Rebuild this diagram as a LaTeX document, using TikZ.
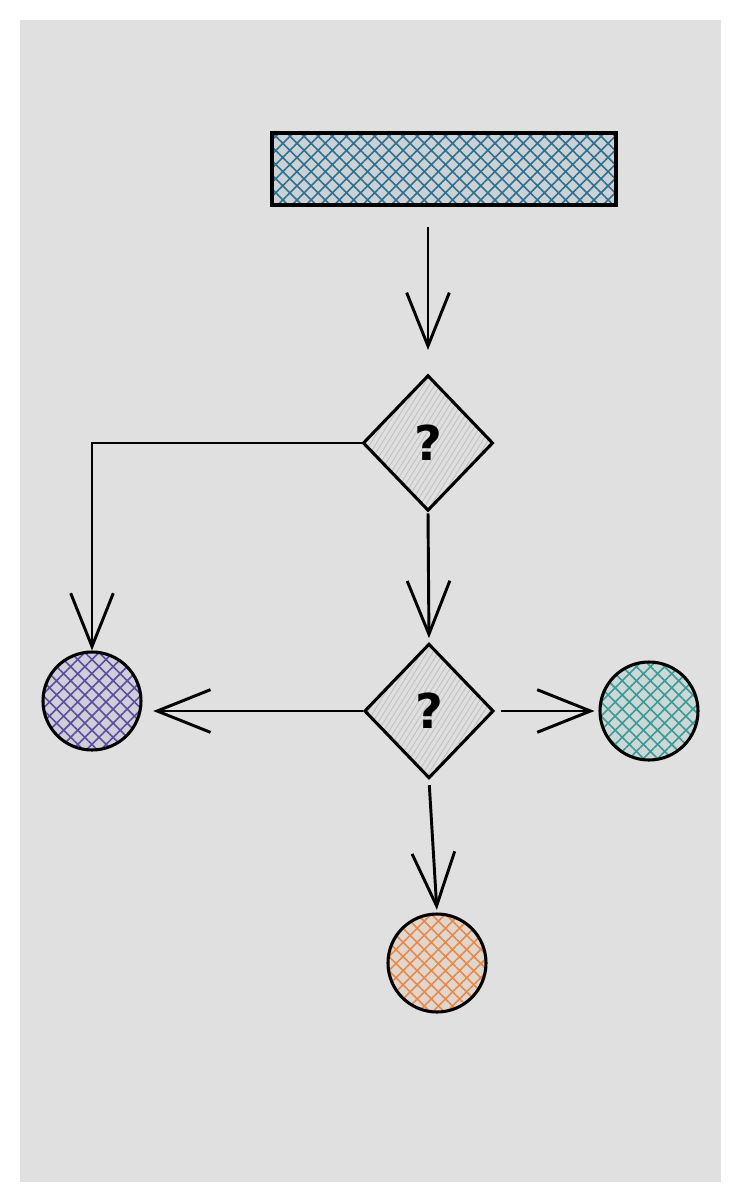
\documentclass[tikz,border=0pt]{standalone}
\usepackage{tikz}
\usepackage{xcolor}
\usepackage{fontspec}
\usetikzlibrary{positioning, arrows.meta, patterns.meta}
\usetikzlibrary{shapes.geometric}

\newfontfamily\markfont{DejaVu Sans}

\definecolor{paper}{HTML}{E0E0E0}
\definecolor{hatchblue}{HTML}{2F6F8F}
\definecolor{hatchpurple}{HTML}{5B4EA0}
\definecolor{hatchteal}{HTML}{3A9A96}
\definecolor{hatchorange}{HTML}{E8894A}

\begin{document}
\begin{tikzpicture}[x=0.75pt, y=-0.75pt,
    hatched/.style={draw=black, line width=2.3pt, preaction={fill=#1!12!paper},
        pattern={Hatch[angle=45, distance=7.5pt, line width=1.2pt]}, pattern color=#1},
    decision/.style={diamond, draw=black, line width=2.3pt, inner sep=0pt,
        minimum width=97pt, minimum height=101pt, preaction={fill=gray!25},
        pattern={Lines[angle=58, distance=3.5pt, line width=0.6pt]}, pattern color=gray!50,
        font=\markfont\bfseries\fontsize{36}{36}\selectfont},
    outcome/.style={circle, hatched=#1, minimum size=73.5pt, inner sep=0pt},
    flow/.style={line width=2.2pt, -{Straight Barb[length=40pt, width=32pt]}}]
            \useasboundingbox (0, 0) rectangle (742, 1204);
            \fill[white] (0, 0) rectangle (742, 1204);
            \fill[paper] (20, 20) rectangle (721, 1182);

            \node[rectangle, hatched=hatchblue, minimum width=258pt, minimum height=54pt] (start) at (444, 169) {};
            \node[decision] (q1) at (428, 443) {?};
            \node[decision] (q2) at (429, 711) {?};
            \node[outcome=hatchpurple] (left) at (92, 701) {};
            \node[outcome=hatchteal] (right) at (649, 711) {};
            \node[outcome=hatchorange] (down) at (437, 963) {};

            \draw[flow, shorten <=16pt, shorten >=19pt] (q1 |- start.south) -- (q1.north);
            \draw[flow, shorten <=2pt, shorten >=3pt] (q1.south) -- (q2.north);
            \draw[flow] (q1.west) -| (left.north);
            \draw[flow, shorten >=8pt] (q2.west) -- (q2.west -| left.east);
            \draw[flow, shorten <=4pt, shorten >=3pt] (q2.east) -- (right.west);
            \draw[flow, shorten <=4pt, shorten >=2pt] (q2.south) -- (down.north);
        \end{tikzpicture}
\end{document}
